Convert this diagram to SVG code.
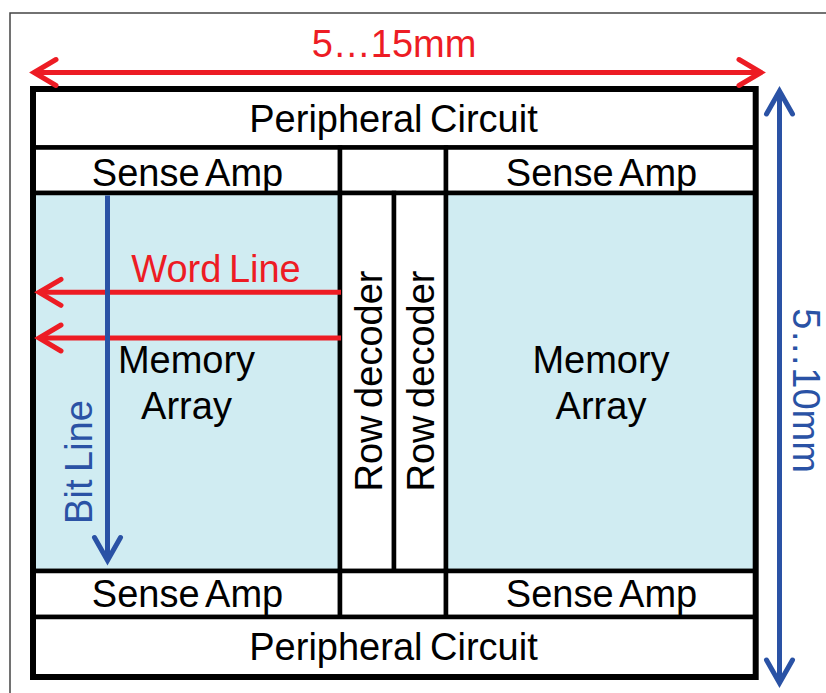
<svg xmlns="http://www.w3.org/2000/svg" width="826" height="693" viewBox="0 0 826 693">
  <style>
    .t { font-family: "Liberation Sans", Arial, sans-serif; font-size: 38px; word-spacing: -3px; fill: #000; text-anchor: middle; }
    .red { fill: #ED1C24; }
    .blue { fill: #2A52A5; }
    .cell { fill: #fff; stroke: #000; stroke-width: 4.5; }
    .mem { fill: #D0ECF2; stroke: #000; stroke-width: 4.5; }
    .rl { stroke: #ED1C24; stroke-width: 5; fill: none; }
    .bl { stroke: #2A52A5; stroke-width: 5; fill: none; }
  </style>
  <defs>
    <marker id="arR" markerUnits="userSpaceOnUse" viewBox="-30 -20 40 40" refX="0" refY="0" markerWidth="40" markerHeight="40" orient="auto-start-reverse">
      <path d="M-22,-13 L0,0 L-22,13" fill="none" stroke="#ED1C24" stroke-width="5" stroke-linecap="round" stroke-linejoin="miter"/>
    </marker>
    <marker id="arB" markerUnits="userSpaceOnUse" viewBox="-30 -20 40 40" refX="0" refY="0" markerWidth="40" markerHeight="40" orient="auto-start-reverse">
      <path d="M-23,-13 L0,0 L-23,13" fill="none" stroke="#2A52A5" stroke-width="5" stroke-linecap="round" stroke-linejoin="miter"/>
    </marker>
  </defs>

  <rect x="0" y="0" width="826" height="693" fill="#fff"/>
  <rect id="frame" x="10" y="13" width="830" height="700" fill="none" stroke="#444" stroke-width="1.5"/>

  <g id="periph-top">
    <rect class="cell" x="33" y="89" width="722.7" height="58.5"/>
    <text class="t" x="393.5" y="131.5">Peripheral Circuit</text>
  </g>
  <g id="sense-tl">
    <rect class="cell" x="33" y="147.5" width="307" height="45.5"/>
    <text class="t" x="187.5" y="185.5">Sense Amp</text>
  </g>
  <g id="gap-top">
    <rect class="cell" x="340" y="147.5" width="106" height="45.5"/>
  </g>
  <g id="sense-tr">
    <rect class="cell" x="446" y="147.5" width="309.7" height="45.5"/>
    <text class="t" x="601.5" y="185.5">Sense Amp</text>
  </g>
  <g id="mem-left">
    <rect class="mem" x="33" y="193" width="307" height="378"/>
    <text class="t" x="186.5" y="373">Memory</text>
    <text class="t" x="186.5" y="419">Array</text>
  </g>
  <g id="rowdec-1">
    <rect class="cell" x="340" y="193" width="54" height="378"/>
    <text class="t" transform="translate(381.5,381) rotate(-90)">Row decoder</text>
  </g>
  <g id="rowdec-2">
    <rect class="cell" x="394" y="193" width="52" height="378"/>
    <text class="t" transform="translate(434.3,381) rotate(-90)">Row decoder</text>
  </g>
  <g id="mem-right">
    <rect class="mem" x="446" y="193" width="309.7" height="378"/>
    <text class="t" x="601" y="373">Memory</text>
    <text class="t" x="601" y="418.5">Array</text>
  </g>
  <g id="sense-bl">
    <rect class="cell" x="33" y="571" width="307" height="46"/>
    <text class="t" x="187.5" y="606.5">Sense Amp</text>
  </g>
  <g id="gap-bottom">
    <rect class="cell" x="340" y="571" width="106" height="46"/>
  </g>
  <g id="sense-br">
    <rect class="cell" x="446" y="571" width="309.7" height="46"/>
    <text class="t" x="601.5" y="606.5">Sense Amp</text>
  </g>
  <g id="periph-bottom">
    <rect class="cell" x="33" y="617" width="722.7" height="60"/>
    <text class="t" x="393.5" y="659.5">Peripheral Circuit</text>
  </g>
  <g id="chip-outline">
    <rect x="33" y="89" width="722.7" height="588" fill="none" stroke="#000" stroke-width="6"/>
  </g>

  <g id="connectors">
    <line class="rl" x1="34" y1="72.5" x2="761" y2="72.5" marker-start="url(#arR)" marker-end="url(#arR)"/>
    <line class="bl" x1="779.5" y1="91" x2="779.5" y2="683" marker-start="url(#arB)" marker-end="url(#arB)"/>
    <line class="rl" x1="341" y1="292.3" x2="39" y2="292.3" marker-end="url(#arR)"/>
    <line class="rl" x1="341" y1="338" x2="39" y2="338" marker-end="url(#arR)"/>
    <line class="bl" x1="107.5" y1="195.5" x2="107.5" y2="560.5" marker-end="url(#arB)"/>
  </g>

  <g id="labels">
    <text class="t red" x="394" y="56.5" font-size="37.5">5…15mm</text>
    <text class="t red" x="216" y="281.7">Word Line</text>
    <text class="t blue" transform="translate(92.3,462) rotate(-90)">Bit Line</text>
    <text class="t blue" transform="translate(793,390.5) rotate(90)" font-size="37.5">5…10mm</text>
  </g>
</svg>
